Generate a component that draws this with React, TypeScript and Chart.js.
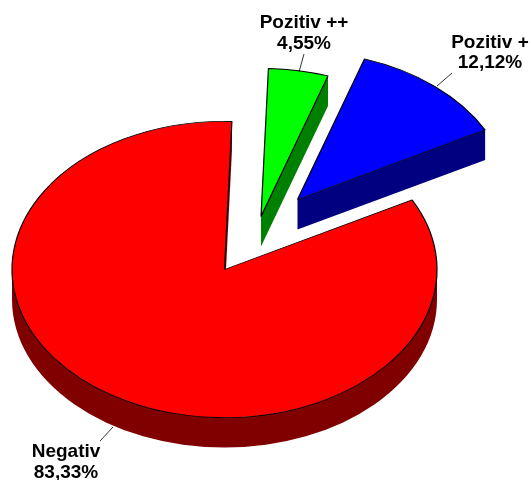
import React, { useEffect, useRef } from "react";
import { Chart, registerables } from "chart.js";

Chart.register(...registerables);

const categories = ["Pozitiv ++", "Pozitiv +", "Negativ"];
const shares = [4.55, 12.12, 83.33];
const shareLabels = ["4,55%", "12,12%", "83,33%"];
const topColors = ["#00ff00", "#0000ff", "#ff0000"];
const sideColors = ["#008000", "#000080", "#800000"];

// Tilted-pie look: vertical squash of the disc and thickness of the extrusion.
const TILT = 0.697;
const DEPTH = 30;
// How far each slice is pulled out of the disc, in canvas pixels.
const pullOut = [
  { dx: 36.5, dy: -53 },
  { dx: 73, dy: -70 },
  { dx: 0, dy: 0 },
];
// Caption anchors and their leader lines.
const captions = [
  { x: 304, y: 23, gap: 21, line: [299, 72, 304, 54] },
  { x: 490, y: 43, gap: 20, line: [437, 86, 452, 73] },
  { x: 66, y: 452, gap: 21, line: [113, 427, 100, 441] },
];

const drawSides = (ctx: CanvasRenderingContext2D, arc: any, fill: string) => {
  const { x, y, startAngle, endAngle, outerRadius: r } = arc;
  const ry = r * TILT;
  ctx.fillStyle = fill;

  const cutFace = (a: number) => {
    const ex = x + r * Math.cos(a);
    const ey = y + ry * Math.sin(a);
    ctx.beginPath();
    ctx.moveTo(x, y);
    ctx.lineTo(ex, ey);
    ctx.lineTo(ex, ey + DEPTH);
    ctx.lineTo(x, y + DEPTH);
    ctx.closePath();
    ctx.fill();
  };

  // Only faces turned towards the viewer are painted.
  if (Math.cos(startAngle) < 0) cutFace(startAngle);
  if (Math.cos(endAngle) > 0) cutFace(endAngle);

  const from = Math.max(startAngle, 0);
  const to = Math.min(endAngle, Math.PI);
  if (to > from) {
    ctx.beginPath();
    ctx.ellipse(x, y, r, ry, 0, from, to, false);
    ctx.ellipse(x, y + DEPTH, r, ry, 0, to, from, true);
    ctx.closePath();
    ctx.fill();
  }
};

const tiltedPie = {
  id: "tiltedPie",
  beforeDatasetDraw(chart: any) {
    const { ctx } = chart;
    const arcs = chart.getDatasetMeta(0).data;
    [2, 1, 0].forEach((i) => {
      const arc = arcs[i];
      ctx.save();
      ctx.translate(pullOut[i].dx, pullOut[i].dy);
      drawSides(ctx, arc, sideColors[i]);
      ctx.translate(0, arc.y);
      ctx.scale(1, TILT);
      ctx.translate(0, -arc.y);
      arc.draw(ctx);
      ctx.restore();
    });
    return false;
  },
  afterDatasetsDraw(chart: any) {
    const { ctx } = chart;
    ctx.save();
    ctx.font = 'bold 19px "Liberation Sans", Arial, sans-serif';
    ctx.textAlign = "center";
    ctx.textBaseline = "middle";
    ctx.fillStyle = "#000";
    ctx.strokeStyle = "#000";
    ctx.lineWidth = 0.8;
    captions.forEach((c, i) => {
      ctx.fillText(categories[i], c.x, c.y);
      ctx.fillText(shareLabels[i], c.x, c.y + c.gap);
      ctx.beginPath();
      ctx.moveTo(c.line[0], c.line[1]);
      ctx.lineTo(c.line[2], c.line[3]);
      ctx.stroke();
    });
    ctx.restore();
  },
};

export default function App() {
  const canvasRef = useRef<HTMLCanvasElement>(null);

  useEffect(() => {
    const chart = new Chart(canvasRef.current!, {
      type: "pie",
      data: {
        labels: categories,
        datasets: [
          {
            data: shares,
            backgroundColor: topColors,
            borderColor: "#000",
            borderWidth: 1.2,
          },
        ],
      },
      options: {
        responsive: false,
        animation: false,
        rotation: 2,
        radius: 212.5,
        layout: { padding: { left: 12, right: 94, top: 59, bottom: 0 } },
        plugins: { legend: { display: false }, tooltip: { enabled: false } },
      },
      plugins: [tiltedPie],
    } as any);
    return () => chart.destroy();
  }, []);

  return (
    <canvas
      ref={canvasRef}
      width={531}
      height={480}
      style={{ position: "absolute", left: 0, top: 0, width: 531, height: 480 }}
    />
  );
}
